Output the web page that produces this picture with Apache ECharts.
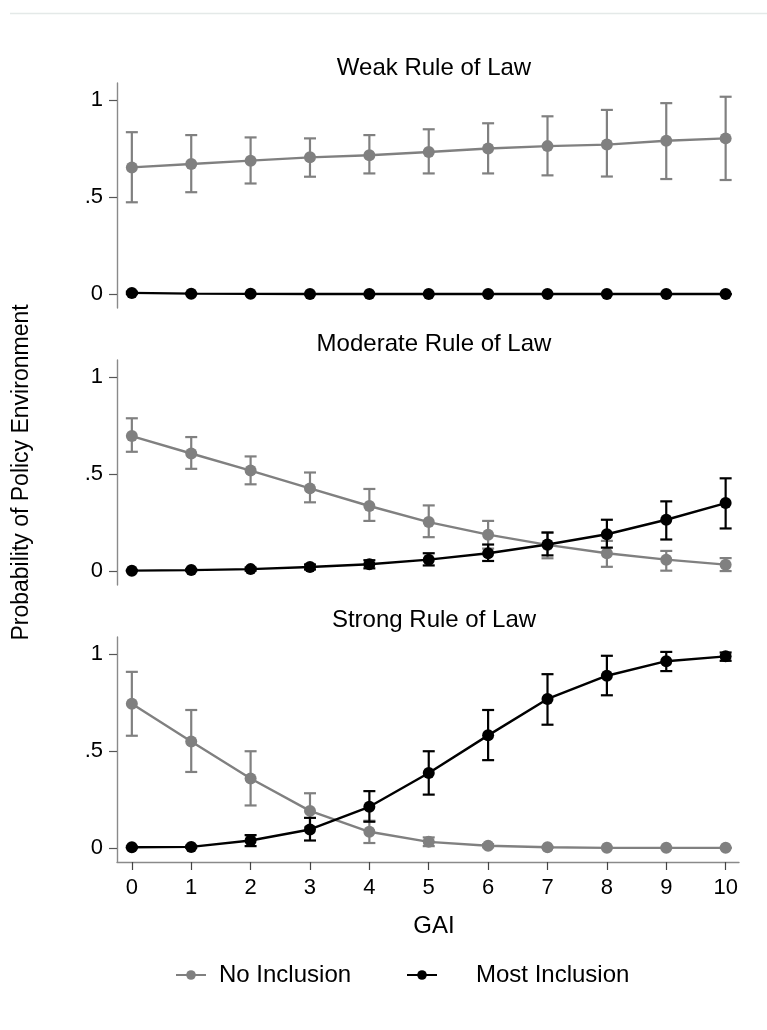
<!DOCTYPE html>
<html>
<head>
<meta charset="utf-8">
<script src="https://cdn.jsdelivr.net/npm/echarts@6/dist/echarts.min.js"></script>
<style>
html,body{margin:0;padding:0;background:#fff;}
#chart{width:767px;height:1030px;}
</style>
</head>
<body>
<div id="chart"></div>
<script>
// ---- data ----
const gai = [0, 1, 2, 3, 4, 5, 6, 7, 8, 9, 10];
const yTickValues = [0, 0.5, 1];
const yTickLabels = ['0', '.5', '1'];
const panelTitles = ['Weak Rule of Law', 'Moderate Rule of Law', 'Strong Rule of Law'];
const seriesNames = ['No Inclusion', 'Most Inclusion'];
const xTitle = 'GAI';
const yTitle = 'Probability of Policy Environment';

// Weak rule of law
const weakNoVal  = [0.654, 0.672, 0.689, 0.706, 0.717, 0.734, 0.752, 0.764, 0.772, 0.792, 0.804];
const weakNoLo   = [0.474, 0.526, 0.571, 0.606, 0.623, 0.623, 0.623, 0.613, 0.607, 0.594, 0.589];
const weakNoHi   = [0.836, 0.821, 0.809, 0.804, 0.821, 0.851, 0.882, 0.918, 0.951, 0.986, 1.019];
const weakMostVal = [0.006, 0.002, 0.001, 0.0, 0.0, 0.0, 0.0, 0.0, 0.0, 0.0, 0.0];
const weakMostLo  = [0.0, 0.0, 0.0, 0.0, 0.0, 0.0, 0.0, 0.0, 0.0, 0.0, 0.0];
const weakMostHi  = [0.012, 0.004, 0.002, 0.0, 0.0, 0.0, 0.0, 0.0, 0.0, 0.0, 0.0];

// Moderate rule of law
const modNoVal  = [0.697, 0.607, 0.519, 0.427, 0.336, 0.253, 0.188, 0.135, 0.092, 0.059, 0.033];
const modNoLo   = [0.616, 0.528, 0.448, 0.355, 0.259, 0.175, 0.116, 0.066, 0.022, 0.002, 0.0];
const modNoHi   = [0.789, 0.692, 0.592, 0.509, 0.424, 0.339, 0.259, 0.199, 0.156, 0.104, 0.067];
const modMostVal = [0.002, 0.005, 0.010, 0.021, 0.035, 0.059, 0.092, 0.137, 0.190, 0.265, 0.351];
const modMostLo  = [0.0, 0.0, 0.002, 0.008, 0.014, 0.029, 0.052, 0.081, 0.121, 0.163, 0.220];
const modMostHi  = [0.004, 0.010, 0.018, 0.034, 0.056, 0.092, 0.137, 0.199, 0.265, 0.360, 0.479];

// Strong rule of law
const strNoVal  = [0.745, 0.550, 0.359, 0.192, 0.084, 0.032, 0.012, 0.004, 0.001, 0.001, 0.001];
const strNoLo   = [0.580, 0.393, 0.220, 0.108, 0.026, 0.010, 0.004, 0.001, 0.0, 0.0, 0.0];
const strNoHi   = [0.910, 0.713, 0.500, 0.283, 0.141, 0.055, 0.020, 0.007, 0.002, 0.002, 0.002];
const strMostVal = [0.004, 0.006, 0.039, 0.096, 0.213, 0.388, 0.582, 0.770, 0.890, 0.965, 0.990];
const strMostLo  = [0.0, 0.001, 0.010, 0.039, 0.136, 0.276, 0.454, 0.637, 0.789, 0.914, 0.967];
const strMostHi  = [0.008, 0.012, 0.067, 0.156, 0.294, 0.500, 0.713, 0.898, 0.993, 1.013, 1.010];

// ---- styling ----
const GRAY = '#808080';
const BLACK = '#000000';
const AXIS = '#8a8a8a';
const FONT = '"Liberation Sans", Arial, sans-serif';

const panels = [
  {no: [weakNoVal, weakNoLo, weakNoHi], most: [weakMostVal, weakMostLo, weakMostHi]},
  {no: [modNoVal, modNoLo, modNoHi], most: [modMostVal, modMostLo, modMostHi]},
  {no: [strNoVal, strNoLo, strNoHi], most: [strMostVal, strMostLo, strMostHi]}
];

const gridTops = [83, 360, 637];
const grids = gridTops.map(t => ({left: 117, width: 622, top: t, height: 225}));

const xAxes = gridTops.map((t, i) => {
  const bottom = i === 2;
  return {
    type: 'value', gridIndex: i, min: -0.25, max: 10.225,
    splitLine: {show: false},
    axisLine: {show: bottom, onZero: false, lineStyle: {color: AXIS, width: 1.4}},
    axisTick: {show: bottom, customValues: gai, length: 8, lineStyle: {color: '#444', width: 1.2}},
    axisLabel: {show: bottom, customValues: gai, fontSize: 22, margin: 15, color: '#000', fontFamily: FONT}
  };
});

const yAxes = gridTops.map((t, i) => ({
  type: 'value', gridIndex: i, min: -0.072, max: 1.09,
  splitLine: {show: false},
  axisLine: {show: true, onZero: false, lineStyle: {color: AXIS, width: 1.4}},
  axisTick: {show: true, customValues: yTickValues, length: 8, lineStyle: {color: '#555', width: 1.2}},
  axisLabel: {
    customValues: yTickValues, fontSize: 22, margin: 14, color: '#000', fontFamily: FONT,
    formatter: v => { const k = yTickValues.findIndex(u => Math.abs(u - v) < 1e-9); return k >= 0 ? yTickLabels[k] : ''; }
  },
  name: i === 1 ? yTitle : '',
  nameLocation: 'middle', nameGap: 84,
  nameTextStyle: {fontSize: 23, color: '#000', fontFamily: FONT}
}));

function errRender(color) {
  return function (params, api) {
    const x = api.value(0), lo = api.value(1), hi = api.value(2);
    const p1 = api.coord([x, hi]);
    const p2 = api.coord([x, lo]);
    const w = 6;
    const st = {stroke: color, lineWidth: 2.2};
    return {
      type: 'group',
      children: [
        {type: 'line', shape: {x1: p1[0], y1: p1[1], x2: p2[0], y2: p2[1]}, style: st},
        {type: 'line', shape: {x1: p1[0] - w, y1: p1[1], x2: p1[0] + w, y2: p1[1]}, style: st},
        {type: 'line', shape: {x1: p2[0] - w, y1: p2[1], x2: p2[0] + w, y2: p2[1]}, style: st}
      ]
    };
  };
}

const series = [];
panels.forEach((p, i) => {
  [['no', GRAY, seriesNames[0], 2], ['most', BLACK, seriesNames[1], 4]].forEach(([key, color, name, z]) => {
    const [val, lo, hi] = p[key];
    series.push({
      type: 'line', name: name, xAxisIndex: i, yAxisIndex: i, z: z + 1,
      data: gai.map((g, k) => [g, val[k]]),
      symbol: 'circle', symbolSize: 12,
      itemStyle: {color: color},
      lineStyle: {color: color, width: 2.4}
    });
    series.push({
      type: 'custom', name: name + ' CI', xAxisIndex: i, yAxisIndex: i, z: z,
      renderItem: errRender(color),
      itemStyle: {color: color},
      data: gai.map((g, k) => [g, lo[k], hi[k]]),
      encode: {x: 0, y: [1, 2]},
      silent: true
    });
  });
});

const titleTops = [51, 327, 603];
const TITLE_STYLE = {fontSize: 24, fontWeight: 'normal', color: '#000', fontFamily: FONT};

const option = {
  animation: false,
  backgroundColor: '#fff',
  title: panelTitles.map((t, i) => ({
    text: t, left: 429, top: titleTops[i], textAlign: 'center', textStyle: TITLE_STYLE
  })).concat([{
    text: xTitle, left: 429, top: 909, textAlign: 'center', textStyle: TITLE_STYLE
  }]),
  grid: grids,
  xAxis: xAxes,
  yAxis: yAxes,
  legend: [
    {data: [seriesNames[0]], left: 170, top: 958, itemWidth: 30, itemHeight: 12, itemGap: 0,
     textStyle: {fontSize: 24, color: '#000', fontFamily: FONT, padding: [0, 0, 0, 8]}, selectedMode: false},
    {data: [seriesNames[1]], left: 401, top: 958, itemWidth: 30, itemHeight: 12, itemGap: 0,
     textStyle: {fontSize: 24, color: '#000', fontFamily: FONT, padding: [0, 0, 0, 34]}, selectedMode: false}
  ],
  graphic: [{
    type: 'line', shape: {x1: 10, y1: 13.5, x2: 767, y2: 13.5},
    style: {stroke: '#e4e9e8', lineWidth: 1.5}, silent: true
  }],
  series: series
};

const chart = echarts.init(document.getElementById('chart'), null, {renderer: 'canvas'});
chart.setOption(option);
</script>
</body>
</html>
